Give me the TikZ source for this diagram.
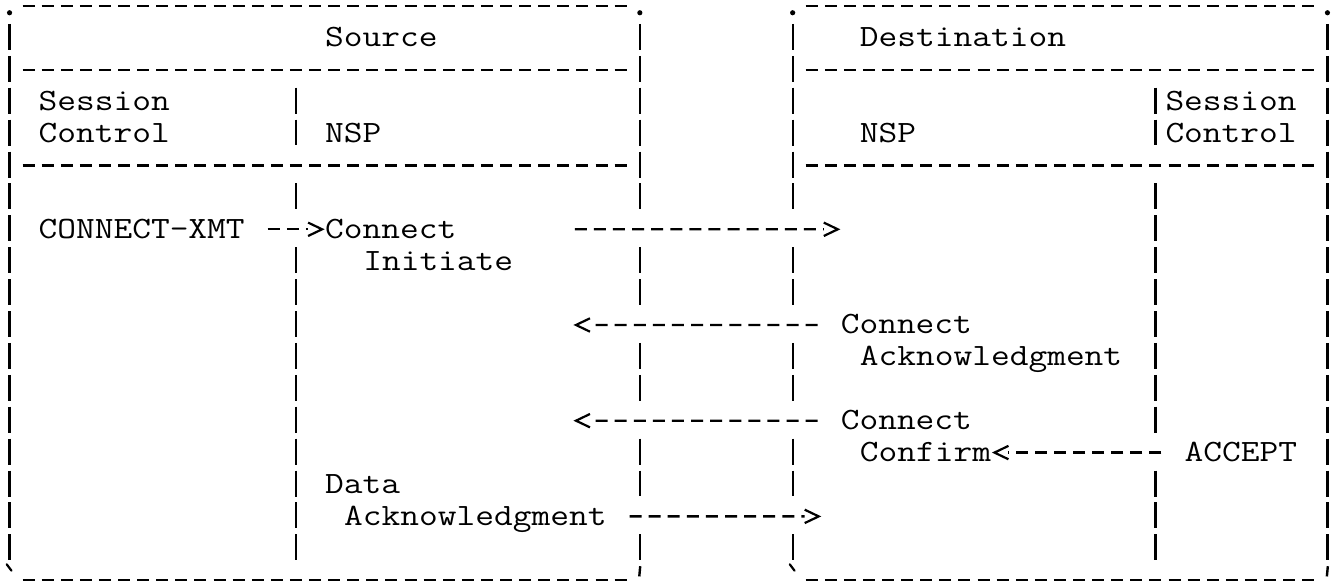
\documentclass[tikz,border=0pt]{standalone}
\usepackage{tikz}
\usepackage{graphicx}
\usepackage{pdfrender}
\usetikzlibrary{calc}
% typewriter text, stretched to the 10 pitch grid of the figure
\newcommand{\ty}[1]{\scalebox{1.1736}[1]{\textpdfrender{TextRenderingMode=FillStroke,LineWidth=0.3pt}{#1}}}
\tikzset{
	lbl/.style={anchor=base west, inner sep=0pt, text height=9pt, text depth=0pt,
		font=\fontsize{15.5}{15.5}\selectfont\ttfamily},
	rule/.style={line width=1.15pt, dash pattern=on 6pt off 3.55pt},
	bar/.style={line width=1.15pt, dash pattern=on 13pt off 2.95pt},
	msg/.style={line width=1.15pt, dash pattern=on 6pt off 3.55pt},
	headR/.pic={\draw[line width=1.1pt] (-0.733,-0.21) -- (0,0) -- (-0.733,0.21);},
	headL/.pic={\draw[line width=1.1pt] (0.733,-0.21) -- (0,0) -- (0.733,0.21);},
}

\begin{document}
\begin{tikzpicture}[x=9.55pt,y=-15.95pt]
	\useasboundingbox (0,-0.47) rectangle (69.686,17.74);
	\fill[white] (0,-0.47) rectangle (69.686,17.74);
	% frames of the two boxes
	\foreach \r in {0,2,5,18} {
		\draw[rule] (1.183,\r-0.282) -- (32.81,\r-0.282);
		\draw[rule] (42.183,\r-0.282) -- (68.81,\r-0.282);
	}
	\foreach \c/\a/\b in {0/1/17, 69/1/17,
		33/1/6, 33/8/9, 33/11/12, 33/14/15, 33/17/17,
		41/1/6, 41/8/9, 41/11/12, 41/14/15, 41/17/17,
		15/3/4, 15/6/6, 15/8/17,
		60/3/4, 60/6/13, 60/15/17}
		\draw[bar] (\c+0.5,\a-0.72) -- (\c+0.5,\b+0.09);
	\foreach \c in {0,33,41,69}
		\fill (\c+0.5,-0.07) circle (1.3pt);
	\draw[line width=1.1pt, line cap=round] (0.35,17.22) -- (0.6,17.42);
	\draw[line width=1.1pt, line cap=round] (41.35,17.22) -- (41.6,17.42);
	\draw[line width=1.2pt] (33.52,17.28) -- (33.47,17.6);
	\draw[line width=1.2pt] (69.52,17.28) -- (69.47,17.6);

	% headings
	\node[lbl] (src) at (17,1) {\ty{Source}};
	\node[lbl] (dst) at (45,1) {\ty{Destination}};
	\node[lbl] (sc1) at (2,3) {\ty{Session}};
	\node[lbl] (sc2) at (2,4) {\ty{Control}};
	\node[lbl] (nspS) at (17,4) {\ty{NSP}};
	\node[lbl] (nspD) at (45,4) {\ty{NSP}};
	\node[lbl] (dc1) at (61,3) {\ty{Session}};
	\node[lbl] (dc2) at (61,4) {\ty{Control}};

	% messages
	\node[lbl] (xmt) at (2,7) {\ty{CONNECT-XMT}};
	\node[lbl] (ci1) at (17,7) {\ty{Connect}};
	\node[lbl] (ci2) at (19,8) {\ty{Initiate}};
	\node[lbl] (ca1) at (44,10) {\ty{Connect}};
	\node[lbl] (ca2) at (45,11) {\ty{Acknowledgment}};
	\node[lbl] (cc1) at (44,13) {\ty{Connect}};
	\node[lbl] (cc2) at (45,14) {\ty{Confirm}};
	\node[lbl] (acc) at (62,14) {\ty{ACCEPT}};
	\node[lbl] (da1) at (17,15) {\ty{Data}};
	\node[lbl] (da2) at (18,16) {\ty{Acknowledgment}};

	\coordinate (ciEnd) at (43.864,6.718);
	\coordinate (caEnd) at (30.157,9.718);
	\coordinate (ccEnd) at (30.157,12.718);
	\coordinate (daEnd) at (42.864,15.718);

	\draw[msg] ($(xmt.east)+(1.183,0)$) -- ($(ci1.west)+(-0.87,0)$);
	\pic at ($(ci1.west)+(-0.136,0)$) {headR};
	\draw[msg] ($(ci1.east)+(6.183,0)$) -- ($(ciEnd)+(-0.733,0)$);
	\pic at (ciEnd) {headR};
	\draw[msg] ($(ca1.west)+(-1.19,0)$) -- ($(caEnd)+(0.733,0)$);
	\pic at (caEnd) {headL};
	\draw[msg] ($(cc1.west)+(-1.19,0)$) -- ($(ccEnd)+(0.733,0)$);
	\pic at (ccEnd) {headL};
	\draw[msg] ($(acc.west)+(-1.19,0)$) -- ($(cc2.east)+(0.89,0)$);
	\pic at ($(cc2.east)+(0.157,0)$) {headL};
	\draw[msg] ($(da2.east)+(1.183,0)$) -- ($(daEnd)+(-0.733,0)$);
	\pic at (daEnd) {headR};
\end{tikzpicture}
\end{document}
